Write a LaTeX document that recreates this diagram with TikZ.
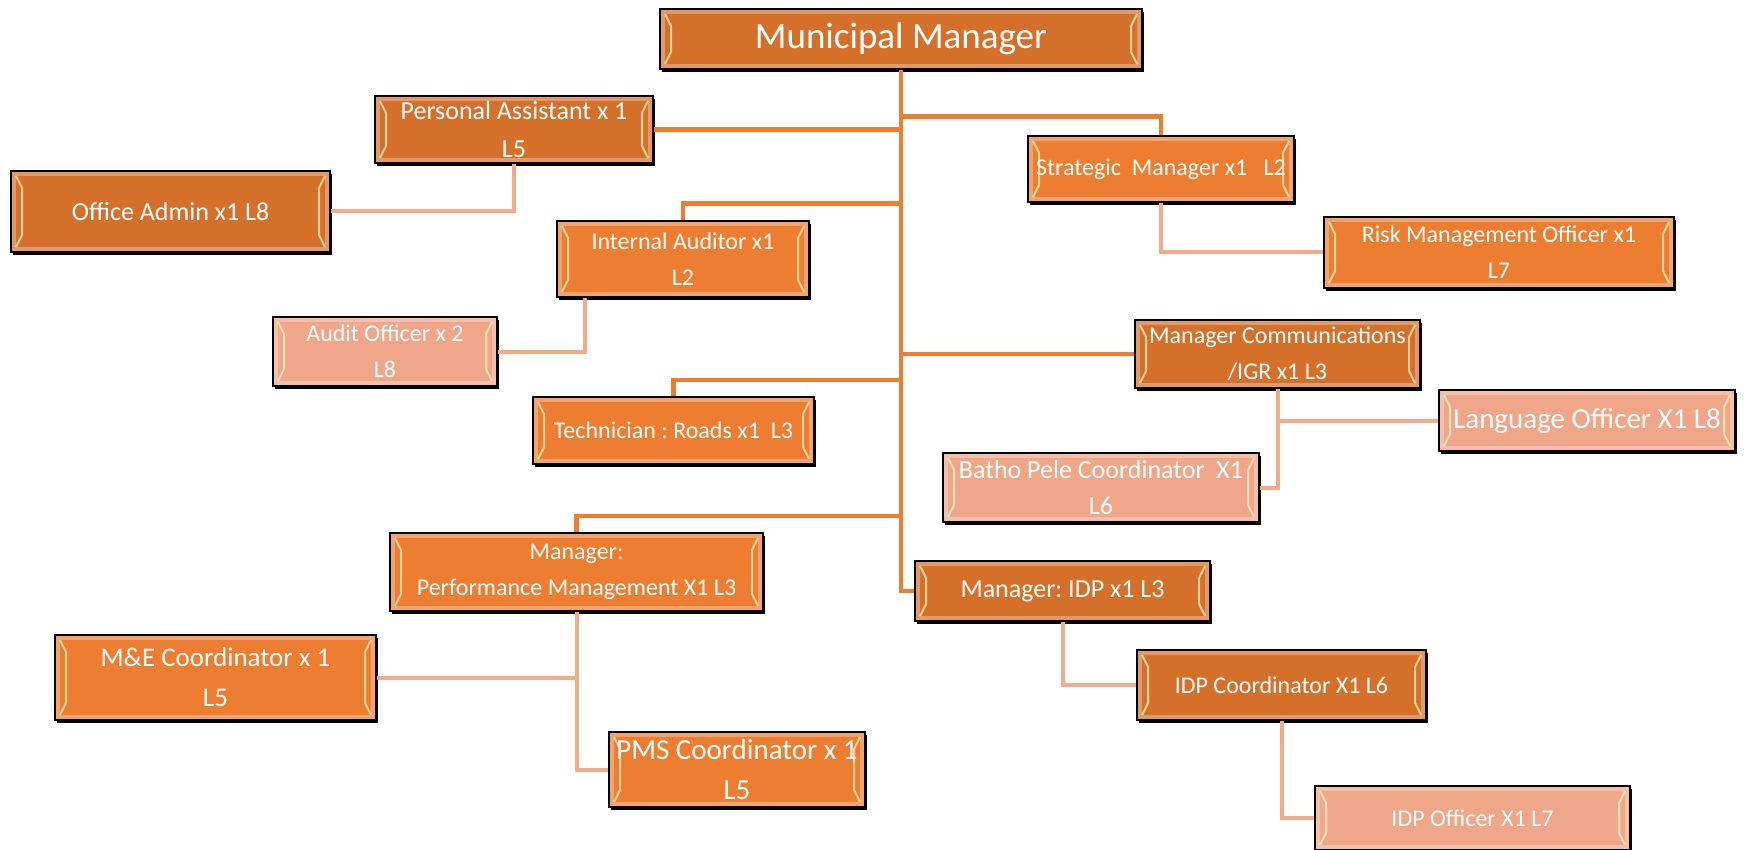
\documentclass[tikz,border=0pt]{standalone}
\usepackage{fontspec}
\setmainfont{Carlito}
\frenchspacing
\usetikzlibrary{shadows}
\definecolor{darkorange}{RGB}{213,112,43}
\definecolor{midorange}{RGB}{237,125,49}
\definecolor{salmon}{RGB}{240,166,136}
\definecolor{linkmain}{RGB}{237,125,49}
\definecolor{linksub}{RGB}{243,172,138}
\begin{document}
\begin{tikzpicture}[x=1pt,y=-1pt,
  post/.style={draw=black,line width=2.5pt,text=white,align=center,inner sep=0pt,
    font=\fontsize{24}{36}\selectfont,
    drop shadow={shadow xshift=2pt,shadow yshift=-3pt,opacity=1,fill=black},
    path picture={
      \draw[white,opacity=.3,line width=4pt] ([shift={(3,3)}]path picture bounding box.north west) rectangle ([shift={(-3,-3)}]path picture bounding box.south east);
      \draw[yellow!25!white,opacity=.7,line width=2pt,line join=round]
        ([shift={(5,5)}]path picture bounding box.north west) -- ++(6,12) -- ([shift={(11,-17)}]path picture bounding box.south west) -- ++(-6,12);
      \draw[yellow!25!white,opacity=.7,line width=2pt,line join=round]
        ([shift={(-5,5)}]path picture bounding box.north east) -- ++(-6,12) -- ([shift={(-11,-17)}]path picture bounding box.south east) -- ++(6,12);
    }},
  dark/.style={post,fill=darkorange},
  mid/.style={post,fill=midorange},
  pale/.style={post,fill=salmon},
  main/.style={linkmain,line width=4.5pt},
  sub/.style={linksub,line width=4pt}]
\useasboundingbox (0,0) rectangle (1748,850);

\node[dark,minimum width=482pt,minimum height=60pt,font=\fontsize{37}{44}\selectfont] (mm) at (901,39) {Municipal Manager};
\node[dark,minimum width=278pt,minimum height=67pt,font=\fontsize{26}{38}\selectfont] (pa) at (514,129.5) {Personal Assistant x 1\\L5};
\node[dark,minimum width=319pt,minimum height=81pt,font=\fontsize{26}{38}\selectfont] (oa) at (170.5,211.5) {Office Admin x1 L8};
\node[mid,minimum width=252pt,minimum height=76pt] (ia) at (683,259) {Internal Auditor x1\\L2};
\node[pale,minimum width=224pt,minimum height=69pt] (ao) at (385,351.5) {Audit Officer x 2\\L8};
\node[mid,minimum width=281pt,minimum height=67pt] (tech) at (673.5,430.5) {Technician : Roads x1~~L3};
\node[mid,minimum width=266pt,minimum height=66pt] (sm) at (1161,169) {Strategic~ Manager x1~~ L2};
\node[mid,minimum width=350pt,minimum height=71pt] (risk) at (1499,252.5) {Risk Management Officer x1\\L7};
\node[dark,minimum width=285pt,minimum height=68pt] (mc) at (1277.5,354) {Manager Communications\\/IGR x1 L3};
\node[pale,minimum width=296pt,minimum height=61pt,font=\fontsize{29}{36}\selectfont] (lang) at (1587,420.5) {Language Officer X1 L8};
\node[pale,minimum width=316pt,minimum height=69pt,font=\fontsize{26}{36}\selectfont] (bp) at (1101,487.5) {Batho Pele Coordinator~ X1\\L6};
\node[mid,minimum width=373pt,minimum height=78pt] (mpm) at (576.5,572) {Manager:\\Performance Management X1 L3};
\node[dark,minimum width=295pt,minimum height=60pt,font=\fontsize{26}{36}\selectfont] (midp) at (1062.5,591) {Manager: IDP x1 L3};
\node[mid,minimum width=321pt,minimum height=85pt,font=\fontsize{27}{40}\selectfont] (me) at (215.5,677.5) {M\&E Coordinator x 1\\L5};
\node[mid,minimum width=256pt,minimum height=75pt,font=\fontsize{29}{40}\selectfont] (pms) at (737,769.5) {PMS Coordinator x 1\\L5};
\node[dark,minimum width=289pt,minimum height=70pt] (idpc) at (1281.5,685) {IDP Coordinator X1 L6};
\node[pale,minimum width=315pt,minimum height=64pt] (idpo) at (1472.5,818) {IDP Officer X1 L7};

\draw[main] (mm.south) |- (midp.west);
\draw[main] (pa.east) -- (pa.east -| mm.south);
\draw[main] (sm.north) -- ++(0,-18) -| (mm.south);
\draw[main] (ia.north) -- ++(0,-16) -| (mm.south);
\draw[main] (mc.west) -| (mm.south);
\draw[main] (tech.north) -- ++(0,-16) -| (mm.south);
\draw[main] (mpm.north) -- ++(0,-16) -| (mm.south);

\draw[sub] (pa.south) |- (oa.east);
\draw[sub] ([xshift=-98pt]ia.south) |- (ao.east);
\draw[sub] (sm.south) |- (risk.west);
\draw[sub] (mc.south) |- (lang.west);
\draw[sub] (mc.south) |- (bp.east);
\draw[sub] (mpm.south) |- (me.east);
\draw[sub] (mpm.south) |- (pms.west);
\draw[sub] (midp.south) |- (idpc.west);
\draw[sub] (idpc.south) |- (idpo.west);
\end{tikzpicture}
\end{document}
